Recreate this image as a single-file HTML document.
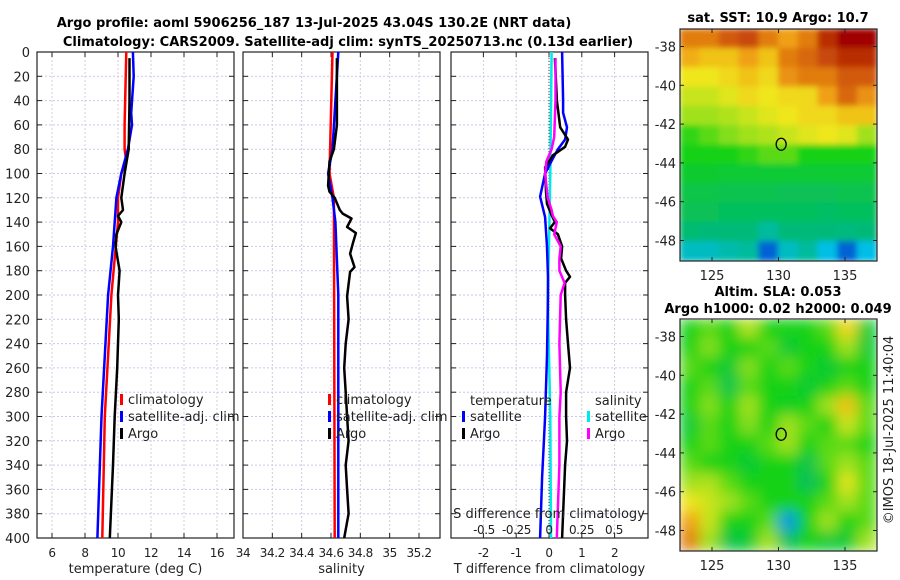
<!DOCTYPE html>
<html><head><meta charset="utf-8">
<style>
body{margin:0;background:#fff;}
svg{display:block;font-family:"DejaVu Sans","Liberation Sans",sans-serif;}
.t{font-size:13px;fill:#222;}
.tk{font-size:12px;fill:#222;letter-spacing:-0.4px;}
.b{font-size:13px;font-weight:bold;fill:#000;}
</style></head>
<body>
<svg id="fig" width="900" height="580" viewBox="0 0 900 580">
<defs>
<filter id="blur1" x="0" y="0" width="100%" height="100%"><feGaussianBlur stdDeviation="3"/></filter>
<filter id="blur2" x="0" y="0" width="100%" height="100%"><feGaussianBlur stdDeviation="7"/></filter>
<clipPath id="cm1"><rect x="680" y="29" width="197" height="232"/></clipPath>
<clipPath id="cm2"><rect x="680" y="320" width="197" height="231"/></clipPath>
</defs>
<text class="b" x="314" y="27" text-anchor="middle">Argo profile: aoml 5906256_187 13-Jul-2025 43.04S 130.2E (NRT data)</text>
<text class="b" x="348" y="46" text-anchor="middle">Climatology: CARS2009. Satellite-adj clim: synTS_20250713.nc (0.13d earlier)</text>
<text class="b" x="778" y="22" text-anchor="middle">sat. SST: 10.9 Argo: 10.7</text>
<text class="b" x="778" y="296" text-anchor="middle">Altim. SLA: 0.053</text>
<text class="b" x="778" y="313" text-anchor="middle">Argo h1000: 0.02 h2000: 0.049</text>
<text class="t" transform="translate(893,430) rotate(-90)" text-anchor="middle">©IMOS 18-Jul-2025 11:40:04</text>
<g id="root"></g>
</svg>
<script>
// ---- data ----
const depthTicks=[0,20,40,60,80,100,120,140,160,180,200,220,240,260,280,300,320,340,360,380,400];
const tTicks=[6,8,10,12,14,16];
const sTicks=[34,34.2,34.4,34.6,34.8,35,35.2];
const dTicks=[-2,-1,0,1,2];
const dsTicks=[-0.5,-0.25,0,0.25,0.5];
const dsTickLabels=["-0.5","-0.25","0","0.25","0.5"];

const climTDepth=[0,60,80,90,100,120,140,200,300,400];
const climT=[10.5,10.4,10.4,10.5,10.2,10.0,10.0,9.6,9.2,9.05];
const satTDepth=[0,20,50,60,80,100,120,160,200,300,400];
const satT=[10.9,10.95,10.8,10.85,10.6,10.2,9.9,9.7,9.4,9.0,8.75];
const argoTDepth=[5,40,80,100,120,130,135,140,150,160,180,200,220,260,300,340,400];
const argoT=[10.7,10.7,10.65,10.4,10.2,10.3,10.0,10.2,9.9,9.85,10.1,10.0,10.05,9.95,9.8,9.7,9.5];

const climSDepth=[0,100,120,400];
const climS=[34.61,34.59,34.62,34.625];
const satSDepth=[0,80,100,120,140,200,400];
const satS=[34.65,34.61,34.58,34.61,34.63,34.65,34.65];
const argoSDepth=[5,60,80,90,100,110,115,120,130,133,137,144,149,157,166,177,181,201,220,240,260,280,300,320,340,360,380,400];
const argoS=[34.64,34.64,34.62,34.59,34.585,34.58,34.59,34.625,34.66,34.68,34.74,34.71,34.77,34.75,34.73,34.76,34.73,34.71,34.72,34.70,34.69,34.70,34.71,34.72,34.70,34.71,34.72,34.69];

const dSatTDepth=[0,40,50,62,72,80,89,100,119,136,160,185,200,250,300,350,400];
const dSatT=[0.40,0.43,0.43,0.55,0.49,0.27,0.09,-0.12,-0.27,-0.12,-0.06,-0.03,-0.03,-0.06,-0.12,-0.21,-0.27];
const dArgoTDepth=[5,40,62,72,78,85,95,115,125,135,140,145,150,160,170,180,185,190,200,220,240,260,280,300,320,340,360,380,400];
const dArgoT=[0.18,0.24,0.34,0.58,0.49,0.12,-0.12,-0.09,-0.06,0.09,0.18,0.03,0.27,0.40,0.37,0.52,0.64,0.49,0.49,0.52,0.58,0.64,0.52,0.52,0.55,0.49,0.46,0.43,0.40];
const dArgoSDepth=[5,40,70,80,90,100,110,120,130,135,140,150,160,170,180,190,200,240,280,300,340,400];
const dArgoS=[0.05,0.05,0.04,0.02,-0.02,-0.03,-0.02,-0.01,0.02,0.03,0.06,0.04,0.09,0.08,0.08,0.12,0.09,0.08,0.09,0.08,0.08,0.06];
const dSatSDepth=[0,100,160,200,300,400];
const dSatS=[0.02,0.01,0,-0.01,0.01,0.015];

const latTicks=[-38,-40,-42,-44,-46,-48];
const lonTicks=[125,130,135];
const sstGrid=[
[0.85,0.85,0.9,0.92,0.85,0.8,0.85,0.95,1,1],
[0.78,0.75,0.75,0.8,0.75,0.85,0.88,0.92,0.95,0.95],
[0.7,0.7,0.72,0.75,0.72,0.82,0.85,0.85,0.9,0.9],
[0.65,0.65,0.68,0.72,0.7,0.72,0.72,0.8,0.88,0.82],
[0.6,0.6,0.62,0.65,0.68,0.7,0.72,0.72,0.75,0.75],
[0.52,0.55,0.58,0.6,0.62,0.65,0.68,0.7,0.68,0.6],
[0.5,0.5,0.5,0.52,0.55,0.55,0.5,0.5,0.5,0.5],
[0.46,0.46,0.45,0.45,0.45,0.45,0.45,0.45,0.45,0.45],
[0.42,0.42,0.41,0.41,0.41,0.4,0.4,0.4,0.41,0.41],
[0.4,0.4,0.39,0.39,0.39,0.39,0.39,0.38,0.39,0.39],
[0.36,0.35,0.35,0.35,0.3,0.35,0.35,0.35,0.34,0.35],
[0.25,0.25,0.28,0.3,0.08,0.25,0.3,0.2,0.08,0.2]];
const slaGrid=[
[0.5,0.55,0.5,0.62,0.5,0.5,0.5,0.55,0.72,0.45],
[0.5,0.58,0.5,0.5,0.55,0.45,0.5,0.5,0.6,0.45],
[0.55,0.5,0.45,0.58,0.5,0.55,0.5,0.45,0.5,0.5],
[0.5,0.55,0.42,0.55,0.5,0.5,0.45,0.5,0.55,0.5],
[0.5,0.58,0.5,0.6,0.5,0.48,0.5,0.6,0.75,0.55],
[0.45,0.55,0.5,0.58,0.5,0.6,0.55,0.5,0.65,0.55],
[0.5,0.55,0.5,0.5,0.55,0.6,0.5,0.55,0.55,0.5],
[0.55,0.5,0.5,0.45,0.5,0.5,0.42,0.55,0.6,0.55],
[0.6,0.62,0.55,0.5,0.5,0.5,0.4,0.5,0.68,0.55],
[0.7,0.65,0.6,0.55,0.5,0.5,0.5,0.55,0.6,0.55],
[0.8,0.65,0.5,0.5,0.55,0.15,0.5,0.6,0.5,0.55],
[0.85,0.6,0.42,0.45,0.6,0.4,0.5,0.45,0.45,0.6]];

// ---- helpers ----
const NS="http://www.w3.org/2000/svg";
const root=document.getElementById('root');
function mk(tag,attrs,parent){const e=document.createElementNS(NS,tag);for(const k in attrs)e.setAttribute(k,attrs[k]);(parent||root).appendChild(e);return e;}
const Y0=52,Y1=538;
function yD(d){return Y0+(d/400)*(Y1-Y0);}
function linScale(d0,d1,r0,r1){return v=>r0+(v-d0)/(d1-d0)*(r1-r0);}
const xT=linScale(6,16,52,217);
const xS=linScale(34,35.2,243,419);
const xDT=linScale(0,1,549,581.8);
const xDS=linScale(0,1,549,679);

function panel(name,x0,x1,xs,ticks,labels,xlabel,showY){
  const g=mk('g',{});
  
  
  depthTicks.forEach(d=>{
    const gl=mk('line',{x1:x0,x2:x1,y1:yD(d),y2:yD(d),stroke:'#c8c8ec','stroke-width':1,'stroke-dasharray':'2,2'},g);
    
    
    mk('line',{x1:x0,x2:x0+5,y1:yD(d),y2:yD(d),stroke:'#222'},g);
    mk('line',{x1:x1-5,x2:x1,y1:yD(d),y2:yD(d),stroke:'#222'},g);
    if(showY){const t=mk('text',{x:30,y:yD(d)+5,'text-anchor':'end',class:'t'},g);t.textContent=d;
      }
  });
  ticks.forEach((v,i)=>{
    const x=xs(v);
    const gl=mk('line',{x1:x,x2:x,y1:Y0,y2:Y1,stroke:'#d8c8e0','stroke-width':1,'stroke-dasharray':'2,2'},g);
    
    
    mk('line',{x1:x,x2:x,y1:Y1,y2:Y1-5,stroke:'#222'},g);
    mk('line',{x1:x,x2:x,y1:Y0,y2:Y0+5,stroke:'#222'},g);
    const t=mk('text',{x:x,y:557,'text-anchor':'middle',class:'tk'},g);t.textContent=labels[i];
    
  });
  mk('rect',{x:x0,y:Y0,width:x1-x0,height:Y1-Y0,fill:'none',stroke:'#222','stroke-width':1.2},g);
  const xl=mk('text',{x:(x0+x1)/2,y:573,'text-anchor':'middle',class:'t'},g);xl.textContent=xlabel;
  
  return g;
}
function line(name,depths,vals,xs,color,w){
  const pts=depths.map((d,i)=>xs(vals[i]).toFixed(1)+','+yD(d).toFixed(1)).join(' ');
  const p=mk('polyline',{points:pts,fill:'none',stroke:color,'stroke-width':w||2.5,'stroke-linejoin':'round'});
  
  
}
function legend(name,x,y,color,label){
  const g=mk('g',{});
  
  
  mk('rect',{x:x,y:y-10,width:3,height:11,fill:color},g);
  const t=mk('text',{x:x+8,y:y,class:'t'},g);t.textContent=label;
}

// panels
panel('temperature-panel',37,234,xT,tTicks,tTicks.map(String),'temperature (deg C)',true);
line('temperature-climatology-line',climTDepth,climT,xT,'#ff0000');
line('temperature-satellite-line',satTDepth,satT,xT,'#0000ff');
line('temperature-argo-line',argoTDepth,argoT,xT,'#000000');
legend('legend-climatology',120,404,'#ff0000','climatology');
legend('legend-satellite-adj',120,421,'#0000ff','satellite-adj. clim');
legend('legend-argo',120,438,'#000000','Argo');

panel('salinity-panel',243,440,xS,sTicks,sTicks.map(String),'salinity',false);
line('salinity-climatology-line',climSDepth,climS,xS,'#ff0000');
line('salinity-satellite-line',satSDepth,satS,xS,'#0000ff');
line('salinity-argo-line',argoSDepth,argoS,xS,'#000000');
legend('legend-s-climatology',328,404,'#ff0000','climatology');
legend('legend-s-satellite-adj',328,421,'#0000ff','satellite-adj. clim');
legend('legend-s-argo',328,438,'#000000','Argo');

panel('difference-panel',451,648,xDT,dTicks,dTicks.map(String),'T difference from climatology',false);
const zl=mk('line',{x1:549,x2:549,y1:Y0,y2:Y1,stroke:'#444','stroke-dasharray':'1,2'});

line('diff-salinity-satellite-line',dSatSDepth,dSatS,xDS,'#00e8e8');
line('diff-temperature-satellite-line',dSatTDepth,dSatT,xDT,'#0000ff');
line('diff-temperature-argo-line',dArgoTDepth,dArgoT,xDT,'#000000');
line('diff-salinity-argo-line',dArgoSDepth,dArgoS,xDS,'#ff00ff');
const lt=mk('text',{x:470,y:405,class:'t'});lt.textContent='temperature';

const ls=mk('text',{x:595,y:405,class:'t'});ls.textContent='salinity';

legend('legend-t-satellite',462,421,'#0000ff','satellite');
legend('legend-t-argo',462,438,'#000000','Argo');
legend('legend-s-satellite',587,421,'#00e8e8','satellite');
legend('legend-s-argo',587,438,'#ff00ff','Argo');
const st=mk('text',{x:549,y:518,'text-anchor':'middle',class:'t'});st.textContent='S difference from climatology';

dsTicks.forEach((v,i)=>{const t=mk('text',{x:xDS(v),y:534,'text-anchor':'middle',class:'tk'});t.textContent=dsTickLabels[i];
  });

// maps
const cmapStops=[[0,[0,40,200]],[0.2,[0,190,230]],[0.35,[0,185,120]],[0.5,[20,210,20]],[0.6,[160,225,30]],[0.7,[240,230,30]],[0.8,[240,160,20]],[0.9,[210,90,10]],[1,[160,0,0]]];
function cmap(v){for(let i=1;i<cmapStops.length;i++){if(v<=cmapStops[i][0]){const a=cmapStops[i-1],b=cmapStops[i],f=(v-a[0])/(b[0]-a[0]);
  return 'rgb('+a[1].map((c,k)=>Math.round(c+(b[1][k]-c)*f)).join(',')+')';}}return 'rgb(160,0,0)';}
function map(name,grid,top,clip,filt){
  const lonX=linScale(125,135,712,845), latY=linScale(-38,-48,top+17.5,top+211.5);
  const g=mk('g',{});
  const img=mk('g',{'clip-path':'url(#'+clip+')'},g);
  const inner=mk('g',{filter:'url(#'+filt+')'},img);
  const rows=grid.length,cols=grid[0].length,cw=197/cols,rh=232/rows;
  mk('rect',{x:680,y:top,width:197,height:232,fill:cmap(0.45)},inner);
  grid.forEach((r,i)=>r.forEach((v,j)=>{
    const c=mk('rect',{x:680+j*cw-0.5,y:top+i*rh-0.5,width:cw+1,height:rh+1,fill:cmap(v)},inner);
    
    
  }));
  mk('rect',{x:680,y:top,width:197,height:232,fill:'none',stroke:'#222','stroke-width':1.2},g);
  latTicks.forEach(l=>{const y=latY(l);
    mk('line',{x1:680,x2:684,y1:y,y2:y,stroke:'#222'},g);mk('line',{x1:873,x2:877,y1:y,y2:y,stroke:'#222'},g);
    const t=mk('text',{x:676,y:y+5,'text-anchor':'end',class:'t'},g);t.textContent=l;
    });
  lonTicks.forEach(l=>{const x=lonX(l);
    mk('line',{x1:x,x2:x,y1:top,y2:top+4,stroke:'#222'},g);mk('line',{x1:x,x2:x,y1:top+228,y2:top+232,stroke:'#222'},g);
    const t=mk('text',{x:x,y:top+251,'text-anchor':'middle',class:'t'},g);t.textContent=l;
    });
  const c=mk('ellipse',{cx:lonX(130.2),cy:latY(-43.04),rx:5,ry:6,fill:'none',stroke:'#000','stroke-width':1.3},g);
  
}
map('sst-map',sstGrid,29,'cm1','blur1');
map('sla-map',slaGrid,319,'cm2','blur2');
</script>
</body></html>
